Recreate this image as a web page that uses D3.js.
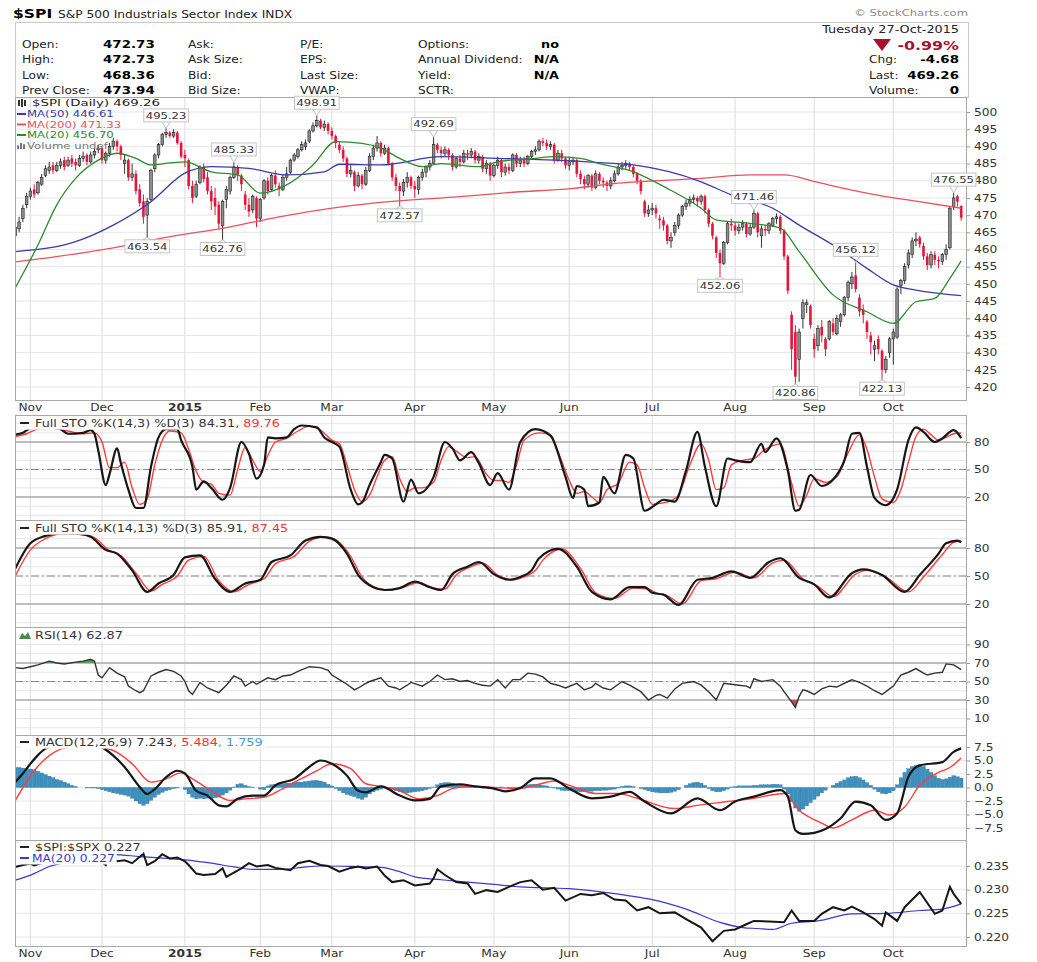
<!DOCTYPE html>
<html>
<head>
<meta charset="utf-8">
<script src="https://cdn.jsdelivr.net/npm/d3@7"></script>
<style>
  body { margin: 0; background: #fff; }
  svg text { font-family: "DejaVu Sans", Verdana, sans-serif; }
</style>
</head>
<body>
<svg id="chart" width="1037" height="962"></svg>
<script>
// ---- trading calendar (Oct 28 2014 .. Oct 27 2015) ----
const holidays = ["2014-11-27","2014-12-25","2015-01-01","2015-01-19","2015-02-16","2015-04-03","2015-05-25","2015-07-03","2015-09-07"];

// ---- daily OHLC, one row per month ----
const opens = [
  464.0,466.0,469.0,473.0,
  475.5,477.5,476.5,479.0,481.5,483.0,484.5,483.0,484.5,486.0,484.5,486.5,485.5,484.5,486.5,487.5,485.5,487.5,489.0,
  489.5,486.0,488.0,490.0,491.5,490.0,485.0,486.0,481.0,482.0,477.5,474.0,470.0,474.5,483.5,487.5,490.5,493.5,494.0,493.0,494.0,491.0,
  487.5,486.0,478.5,475.5,479.5,484.0,481.0,477.0,475.0,473.0,467.0,474.5,477.0,481.0,484.0,481.5,476.0,473.0,471.5,475.0,
  469.0,475.0,480.0,477.5,481.5,478.5,477.5,481.0,482.5,486.0,487.0,489.0,490.0,491.5,494.5,496.0,497.5,495.5,496.5,
  494.5,493.0,490.5,489.0,486.5,482.0,482.5,478.5,481.5,479.0,483.0,487.0,489.5,491.0,488.0,489.5,485.0,481.0,478.5,477.0,479.5,481.0,
  478.5,477.5,481.0,482.5,484.0,485.0,490.5,489.0,488.0,489.0,487.5,484.0,486.5,485.5,488.0,487.5,488.5,486.0,487.0,483.5,485.0,
  481.5,484.5,486.0,482.5,484.0,483.0,487.5,485.0,486.0,485.0,487.0,488.5,489.0,491.5,491.0,490.0,490.5,486.0,488.0,486.5,
  484.5,485.5,486.0,482.0,480.5,479.0,481.5,478.0,482.0,480.0,479.5,478.5,480.0,482.0,484.0,484.5,485.0,484.0,482.0,480.0,474.0,470.5,
  471.5,472.0,469.0,468.5,467.0,462.5,465.0,467.0,470.0,472.5,473.5,474.5,475.0,474.0,475.5,471.5,467.5,463.5,459.0,456.0,462.0,467.5,
  467.0,465.5,466.5,467.5,464.5,466.5,470.5,464.0,466.0,465.5,467.0,469.0,469.5,465.5,458.0,441.0,436.0,428.0,440.0,444.0,443.5,
  434.0,432.0,437.5,434.0,434.0,438.5,435.5,439.0,441.0,446.0,450.0,452.5,446.0,442.5,439.0,435.0,431.0,434.0,430.5,425.0,430.0,
  434.0,434.5,449.5,451.0,455.5,458.5,462.5,463.5,461.0,458.0,455.5,458.5,457.0,456.5,458.5,460.5,472.5,475.5,472.73
];
const highs = [
  467.5,469.5,473.0,476.5,
  478.0,479.0,480.0,482.0,484.5,485.5,485.5,485.5,486.5,487.0,487.0,487.5,486.5,487.5,488.5,488.0,488.5,489.5,490.5,
  490.0,488.5,491.0,492.5,492.0,490.5,487.5,486.5,485.0,483.0,479.0,476.0,475.0,483.5,488.0,491.0,494.0,495.23,494.5,495.0,494.5,491.5,
  489.0,486.5,480.0,480.0,484.5,485.0,482.5,478.5,478.0,474.0,474.5,478.5,481.5,485.33,484.5,482.0,477.0,475.0,476.0,475.5,
  475.0,480.5,481.0,482.0,483.0,479.5,482.0,484.0,486.5,488.0,489.5,491.5,492.0,495.0,497.0,498.91,498.0,497.5,497.0,
  495.5,493.5,491.5,490.0,487.0,484.5,483.0,482.5,482.0,484.0,488.0,490.5,493.0,491.5,490.5,490.0,485.5,482.0,479.5,480.5,482.5,481.5,
  480.0,481.5,483.5,484.5,486.0,492.69,491.0,490.0,490.0,489.5,488.0,487.0,487.5,489.0,489.0,489.5,489.0,488.0,487.5,486.0,485.5,
  485.0,487.0,486.5,485.0,485.0,488.0,488.0,487.0,487.0,487.5,489.0,490.0,492.0,492.5,492.0,491.5,491.0,489.0,489.0,487.0,
  487.0,487.0,486.5,483.0,481.5,482.0,482.0,483.0,482.5,481.0,480.0,481.0,483.0,485.0,485.5,486.0,485.5,484.5,482.5,480.5,474.5,473.0,
  473.5,473.0,470.0,469.5,467.5,465.0,468.0,470.5,473.0,474.5,475.5,476.0,475.5,476.0,476.0,472.0,468.0,464.0,460.0,462.5,468.0,469.0,
  468.0,467.5,468.5,468.0,467.5,471.46,471.0,467.0,467.0,468.0,469.5,470.5,470.0,466.0,458.5,442.0,438.0,437.0,445.5,445.5,444.0,
  435.5,438.0,439.5,434.5,439.5,440.0,441.0,441.5,446.5,451.0,453.5,456.12,447.0,444.0,439.5,436.0,433.5,435.0,431.0,429.0,434.5,
  437.0,449.0,451.5,456.0,460.0,463.5,465.0,464.0,462.0,459.0,459.5,459.5,458.0,459.0,461.5,472.5,476.55,476.0,472.73
];
const lows = [
  462.5,465.0,468.0,472.0,
  474.5,475.0,476.0,478.5,481.0,482.0,482.0,482.5,483.5,483.0,484.0,484.0,483.0,484.0,485.5,484.5,485.0,486.5,488.0,
  485.0,485.0,487.0,489.0,488.5,486.0,482.0,480.0,480.0,476.0,472.5,467.5,463.54,474.0,482.5,486.5,490.0,492.5,492.5,492.5,490.5,486.5,
  484.0,477.5,473.5,475.0,479.0,479.5,476.0,471.5,470.0,466.0,462.76,472.0,476.0,480.5,480.0,477.0,471.5,469.5,470.5,466.5,
  468.0,474.5,476.0,477.0,478.0,475.5,477.0,480.0,482.0,485.5,486.5,488.5,489.0,491.0,494.0,495.5,495.0,494.5,493.5,
  492.0,489.5,488.0,485.5,481.0,481.0,477.0,478.0,477.5,478.5,482.5,486.0,488.5,487.0,487.5,484.5,480.0,477.0,472.57,475.5,478.0,477.5,
  475.0,476.0,480.0,481.0,483.0,485.0,488.0,486.5,487.0,486.0,483.0,483.5,484.0,485.0,486.0,486.5,485.0,485.0,482.5,482.0,480.0,
  481.0,483.5,481.0,481.5,482.0,482.5,484.0,484.0,484.0,484.5,486.5,487.5,488.5,490.0,489.0,489.0,485.0,485.5,485.5,483.5,
  483.0,484.5,481.0,479.0,477.5,478.0,477.0,477.5,479.0,478.0,477.0,477.5,479.5,481.5,483.0,483.5,483.0,481.0,479.0,476.0,469.5,469.5,
  470.0,469.0,466.0,465.5,461.5,460.5,464.0,466.0,469.5,471.5,472.5,473.5,472.5,473.0,470.5,466.5,463.0,457.5,452.06,455.5,461.5,465.5,
  464.0,464.5,465.5,463.5,464.0,466.0,463.5,460.5,464.0,464.5,466.5,467.5,464.5,457.0,447.0,425.0,420.86,421.5,437.0,441.5,437.0,
  428.5,430.5,433.0,429.0,433.5,435.0,435.0,437.5,440.5,445.0,448.5,447.5,440.5,438.5,434.0,429.5,427.5,429.5,422.13,424.0,428.5,
  426.5,434.0,447.0,450.0,454.5,457.5,461.0,460.5,457.0,454.0,454.5,455.5,454.5,455.5,457.0,460.0,471.5,472.5,468.36
];
const closes = [
  466.5,468.0,472.0,475.5,
  477.0,476.0,479.5,481.0,483.5,484.0,483.0,484.5,485.5,484.0,486.0,485.0,484.5,486.5,487.0,485.5,487.5,488.5,489.5,
  486.0,488.0,490.0,491.5,490.0,487.5,486.0,481.0,482.0,477.0,473.5,469.5,474.0,483.0,487.5,490.5,493.5,494.0,493.0,494.0,491.0,487.0,
  486.5,478.5,475.0,479.0,484.0,480.5,477.0,474.0,472.5,467.5,474.0,477.5,481.0,484.0,481.5,479.0,473.0,471.0,475.5,469.0,
  474.5,480.0,477.0,481.5,479.0,477.5,481.0,482.0,486.0,487.5,489.0,490.5,491.0,494.5,496.0,497.5,495.5,496.5,494.5,
  493.0,491.0,489.0,486.5,482.0,483.0,478.5,481.5,479.0,483.0,487.0,489.5,491.0,488.0,489.5,485.0,481.0,478.5,477.0,479.5,481.0,478.5,
  477.5,481.0,482.5,484.0,485.0,490.5,489.0,488.0,489.0,487.5,484.0,486.5,485.5,488.0,487.5,488.5,486.0,487.0,483.5,485.0,481.5,
  484.5,486.0,482.5,484.0,483.0,487.5,485.0,486.0,485.0,487.0,488.5,489.0,491.5,491.0,490.0,490.5,486.0,488.0,486.5,484.5,
  485.5,486.0,482.0,480.5,479.0,481.5,478.0,482.0,480.0,479.5,478.5,480.0,482.0,484.0,484.5,485.0,484.0,482.0,480.0,477.0,470.5,471.5,
  472.0,470.5,468.5,467.0,462.5,463.5,467.0,470.0,472.5,473.5,474.5,475.0,474.0,475.5,471.5,467.5,464.0,459.0,456.0,462.0,467.5,467.0,
  465.5,466.5,467.5,464.5,466.5,470.5,465.0,466.0,465.5,467.5,469.0,469.5,465.5,458.0,448.0,431.0,423.0,436.0,444.5,444.5,438.0,
  431.0,437.0,435.0,431.0,439.0,436.0,440.0,441.0,446.0,450.5,452.0,448.5,442.0,441.0,436.0,433.0,432.0,431.0,425.0,428.0,434.0,
  436.0,448.5,451.0,455.0,459.0,462.5,463.0,461.5,458.0,455.5,458.5,457.0,456.5,458.5,460.0,472.0,475.0,473.94,469.26
];

// ---- overlays: [trading day, value] ----
const ma50 = [[0,459.4],[16,462.3],[26,467.1],[36,473.9],[45,482.2],[52,484.1],[62,483.6],[72,481.7],[82,482.6],[86,484.8],[97,484.6],[113,487.0],[128,486.5],[143,486.0],[155,485.3],[164,484.6],[182,479.7],[190,475.9],[201,472.0],[208,467.1],[217,461.3],[226,454.5],[233,449.7],[239,448.2],[251,446.6]];
const ma200 = [[0,456.4],[10,457.8],[26,460.5],[40,463.5],[57,466.6],[70,469.5],[87,472.5],[100,474.0],[118,475.4],[130,476.5],[148,477.8],[160,479.3],[182,480.7],[195,481.7],[204,481.7],[213,479.5],[222,477.3],[231,475.4],[239,474.1],[251,472.0]];
const ma20 = [[0,448.9],[6,461.3],[11,473.0],[16,480.7],[22,486.0],[27,488.0],[32,486.5],[36,484.6],[41,485.2],[45,485.5],[52,482.6],[59,481.7],[65,476.4],[72,478.8],[79,484.6],[85,491.4],[92,490.9],[97,489.5],[102,486.5],[108,484.1],[113,485.0],[123,484.1],[128,485.5],[138,486.5],[143,487.0],[150,486.5],[155,485.0],[164,482.6],[173,477.8],[182,472.0],[186,468.6],[195,467.6],[203,466.2],[208,459.4],[217,446.8],[226,441.9],[233,438.5],[239,444.8],[244,445.8],[248,451.6],[251,456.7]];

// price annotations: trading day and whether it marks the high or the low
const annotDays = [40,35,58,55,80,102,111,187,196,207,223,230,249];
const annotSide = ["high","low","high","low","high","low","high","low","high","low","high","low","high"];

// ---- indicators: [trading day, value] ----
const stoFastK = [[0,88],[2,90],[4,95],[8,97],[12,94],[14,89],[18,90],[20,93],[21,89],[22,71],[24,33],[25,45],[27,73],[28,57],[30,28],[32,8],[34,8],[36,53],[38,85],[40,94],[43,94],[44,82],[47,53],[48,28],[50,37],[52,30],[55,17],[57,30],[60,80],[62,67],[64,40],[66,55],[67,85],[69,84],[72,85],[74,94],[76,98],[80,96],[82,85],[84,80],[86,75],[89,28],[91,12],[92,14],[94,33],[97,58],[98,66],[100,62],[103,15],[105,39],[107,24],[111,42],[114,80],[116,73],[118,60],[121,69],[123,57],[126,33],[128,46],[131,28],[134,80],[138,94],[142,87],[146,42],[148,19],[149,32],[151,28],[152,10],[155,14],[156,42],[159,24],[162,66],[164,62],[167,5],[170,12],[172,17],[175,15],[178,49],[181,91],[183,53],[186,10],[189,62],[191,60],[195,58],[198,78],[199,69],[202,84],[205,49],[207,5],[208,6],[211,44],[214,32],[217,39],[220,60],[222,89],[224,90],[226,53],[228,19],[231,11],[234,28],[237,82],[239,96],[241,91],[244,80],[246,84],[249,93],[251,84.31]];
const stoFastD = [[0,86],[3,89],[6,94],[10,95],[14,92],[18,89],[21,90],[23,80],[25,52],[27,52],[29,58],[31,30],[33,12],[35,18],[37,55],[39,82],[41,92],[44,90],[46,72],[48,48],[50,36],[52,34],[54,24],[57,22],[59,50],[61,74],[63,60],[65,48],[67,65],[69,80],[72,84],[75,92],[78,97],[81,93],[84,82],[86,78],[88,55],[90,28],[92,15],[94,22],[96,42],[98,60],[100,64],[102,40],[104,26],[106,30],[108,30],[111,36],[113,60],[115,75],[117,70],[120,63],[122,64],[125,45],[127,38],[129,38],[131,36],[133,55],[135,82],[139,90],[142,88],[144,70],[147,38],[149,24],[151,26],[153,20],[155,14],[157,28],[160,35],[163,58],[165,55],[167,30],[169,12],[171,13],[174,16],[176,22],[179,55],[182,78],[184,60],[186,28],[188,30],[190,55],[193,60],[196,62],[199,72],[201,76],[203,78],[206,35],[208,10],[210,22],[212,40],[215,36],[218,42],[221,68],[224,88],[226,72],[228,42],[230,18],[233,14],[235,28],[237,58],[239,86],[241,94],[243,88],[245,82],[247,85],[249,89],[251,89.76]];
const stoSlowK = [[0,58],[4,85],[8,93],[12,96],[17,95],[20,92],[24,78],[27,74],[31,56],[35,33],[38,42],[42,51],[45,70],[49,72],[53,47],[57,33],[61,42],[65,46],[68,65],[73,72],[77,88],[81,92],[84,90],[88,74],[91,51],[95,38],[98,35],[102,37],[106,44],[110,38],[113,35],[116,52],[120,60],[123,65],[127,52],[131,46],[134,49],[137,56],[139,69],[144,79],[149,60],[153,33],[158,25],[163,38],[167,38],[169,32],[172,30],[176,19],[181,46],[185,48],[190,55],[195,48],[200,65],[203,69],[208,48],[212,41],[216,27],[222,53],[225,57],[230,51],[236,33],[240,51],[245,74],[247,85],[250,88],[251,85.91]];
const stoSlowD = [[0,50],[4,78],[8,90],[12,95],[17,95],[21,91],[25,77],[28,72],[32,53],[36,34],[39,41],[43,50],[46,67],[50,71],[54,45],[58,33],[62,41],[66,47],[69,63],[74,71],[78,87],[82,92],[85,89],[89,71],[92,49],[96,37],[99,35],[103,38],[107,43],[111,37],[114,36],[117,51],[121,60],[124,64],[128,51],[132,46],[135,49],[138,56],[140,67],[145,79],[150,58],[154,32],[159,26],[164,37],[168,36],[170,32],[173,29],[177,20],[182,45],[186,47],[191,54],[196,48],[201,64],[204,67],[209,47],[213,39],[217,28],[223,52],[226,56],[231,49],[237,33],[241,49],[246,73],[249,86],[251,87.45]];
const rsi = [[0,65],[2,64],[4,66],[6,68],[9,72],[11,70],[13,69],[16,71],[18,72],[20,74],[21,72],[22,57],[23,54],[25,65],[27,59],[29,55],[30,45],[32,40],[33,38],[34,40],[36,56],[38,60],[40,63],[42,61],[44,56],[45,50],[46,40],[47,36],[49,49],[51,43],[54,38],[56,46],[58,56],[60,52],[61,45],[63,50],[64,47],[67,54],[69,52],[71,56],[73,57],[75,61],[78,66],[81,65],[83,62],[84,57],[86,52],[88,47],[90,41],[91,43],[93,48],[94,50],[97,54],[99,45],[101,43],[102,41],[104,46],[105,49],[108,45],[110,50],[112,57],[114,52],[116,53],[118,50],[120,51],[122,48],[124,46],[126,45],[128,52],[130,43],[132,52],[134,52],[136,59],[138,58],[140,55],[142,48],[144,46],[146,43],[149,48],[151,41],[153,44],[154,48],[156,43],[158,41],[161,50],[163,46],[166,39],[168,30],[170,35],[171,36],[173,32],[175,42],[177,48],[180,50],[182,46],[184,39],[186,30],[188,48],[190,47],[192,46],[194,45],[195,43],[196,53],[198,50],[201,52],[203,45],[204,39],[206,28],[207,22],[208,34],[209,41],[210,40],[212,36],[214,42],[216,45],[218,44],[219,46],[221,50],[222,52],[224,49],[226,45],[228,40],[230,36],[232,42],[233,45],[235,57],[237,60],[239,64],[241,59],[242,57],[244,59],[246,60],[247,69],[249,68],[251,62.87]];
const macdLine = [[0,1.0],[2,2.6],[4,4.4],[6,6.0],[8,7.2],[12,8.0],[16,8.3],[19,8.2],[22,7.8],[26,5.9],[29,3.8],[33,0.1],[35,-1.2],[37,-0.3],[40,1.9],[43,3.1],[45,2.6],[48,-0.6],[51,-1.5],[54,-3.3],[56,-3.5],[59,-2.1],[63,-1.5],[66,-1.5],[69,0.4],[74,1.6],[78,3.8],[81,5.0],[84,4.4],[88,2.2],[91,-0.6],[93,-0.9],[97,0.2],[102,-1.5],[106,-2.4],[110,-2.1],[113,0.2],[118,0.6],[122,0.2],[127,-0.2],[130,-0.7],[134,-0.1],[138,1.7],[142,1.7],[147,-0.2],[153,-2.0],[158,-1.7],[163,-0.8],[167,-2.6],[174,-4.8],[181,-2.0],[187,-4.2],[191,-2.6],[196,-1.7],[203,-0.5],[205,-1.7],[207,-7.9],[209,-8.6],[212,-8.4],[215,-7.7],[219,-5.7],[223,-2.6],[227,-3.3],[231,-6.0],[234,-4.8],[237,2.0],[240,4.1],[246,4.7],[249,6.6],[251,7.243]];
const macdSignal = [[0,-2.4],[5,3.1],[9,5.9],[13,7.3],[18,7.6],[22,7.5],[27,6.5],[31,4.4],[36,1.0],[40,1.6],[44,2.7],[47,1.6],[52,-0.6],[57,-2.4],[61,-2.1],[66,-1.8],[71,-0.2],[75,1.3],[80,3.1],[84,4.4],[89,3.5],[93,0.7],[97,0.2],[102,-0.6],[107,-2.1],[112,-1.5],[116,-0.2],[121,0.2],[127,0.0],[134,-0.2],[138,0.4],[143,1.2],[147,0.4],[154,-1.1],[160,-1.1],[165,-2.0],[175,-3.9],[181,-3.3],[189,-2.6],[196,-2.0],[204,-1.1],[208,-4.2],[214,-6.6],[217,-7.5],[222,-6.0],[228,-4.2],[232,-5.1],[236,-3.6],[240,0.4],[245,2.8],[248,3.7],[251,5.484]];
// daily MACD histogram
const macdHist = [
  3.7,3.7,3.6,3.5,3.4,3.3, 3.0,2.7,2.4,2.1,1.8,1.5,1.3,1.0,0.7, 0.4,0.2,0.0,0.0,-0.1,-0.1,-0.1,-0.2,
  -0.4,-0.6,-0.8,-1.0,-1.1,-1.3,-1.4,-1.6, -2.0,-2.5,-3.0,-3.3, -3.0,-2.4,-1.8, -1.3,-0.9,-0.6,-0.4,-0.2,-0.1,0.0,
  -0.4,-1.2,-1.8,-2.1, -2.0,-2.1,-2.0,-2.0,-1.9,-1.8,-1.4, -1.0,-0.5,0.1, 0.6,0.7,0.4,0.2,0.1,0.0,
  -0.3,-0.4, 0.3,0.5,0.6,0.6,0.7,0.8,0.8,0.9,1.0,1.0, 1.1,1.2,1.3,1.3,1.2,1.0, 0.6,0.3,
  -0.2,-0.6,-1.0,-1.3,-1.5,-1.7, -2.0,-2.2,-1.8,-1.2, -0.8,-0.5,-0.3,-0.1, -0.2,-0.4,-0.6,-0.8,
  -0.9,-1.0,-0.9,-0.8,-0.7,-0.6,-0.4,-0.2, 0.1, 0.5,0.8,0.9,0.9,0.8, 0.6,0.5,0.4,0.3,0.2,
  0.1,0.0,-0.1,-0.1,-0.2,-0.1,0.0,0.1,0.0,-0.1,-0.2,-0.1,0.1, 0.3,0.5,0.6,0.6, 0.5,0.4,0.3,0.1,-0.1,
  -0.3,-0.5,-0.6,-0.6, -0.7,-0.8,-0.8,-0.8,-0.7,-0.7,-0.6,-0.6,-0.5,-0.5,-0.4,-0.3,-0.1,
  0.2,0.3,0.3,0.2, 0.0,-0.2,-0.4,-0.6, -0.8,-0.9,-1.0,-1.0,-1.0,-0.9,-0.7,-0.4,
  0.0,0.4,0.7,0.9,1.0,0.8,0.4, -0.2,-0.6,-0.8,-0.8,-0.6,-0.3, 0.1,0.2,0.3,0.3,0.3,0.3,0.4,
  0.4,0.5,0.5,0.5,0.6,0.6,0.5, -0.3,-1.2,-2.6,-3.8,-4.4, -4.0,-3.4,-2.8,-2.2,-1.6, -1.0,-0.5,0.0,
  0.4,0.8,1.1,1.4,1.8,2.0, 2.1,1.8,1.4,0.9,0.4, -0.3,-0.8,-1.1,-1.2,-1.0,-0.6,
  0.5,1.8,2.8,3.5,3.9,4.1,4.2, 3.9,3.4,2.8,2.2,1.7, 1.5,1.6,1.9,2.2,2.0,1.759
];
const relStrength = [[0,0.2348],[2,0.2352],[4,0.2355],[5,0.2351],[7,0.2356],[10,0.2360],[13,0.2358],[16,0.2362],[19,0.2360],[22,0.2364],[24,0.2352],[25,0.2374],[27,0.2360],[29,0.2362],[31,0.2356],[34,0.2376],[35,0.2352],[37,0.2360],[39,0.2375],[41,0.2366],[43,0.2368],[45,0.2360],[46,0.2352],[48,0.2334],[50,0.2331],[53,0.2333],[55,0.2345],[56,0.2327],[58,0.2336],[60,0.2345],[62,0.2356],[64,0.2349],[67,0.2352],[69,0.2346],[73,0.2341],[75,0.2356],[78,0.2361],[81,0.2352],[83,0.2350],[86,0.2338],[89,0.2346],[91,0.2349],[93,0.2345],[96,0.2349],[98,0.2330],[100,0.2316],[103,0.2320],[106,0.2309],[110,0.2313],[111,0.2324],[112,0.2343],[114,0.2331],[117,0.2316],[120,0.2313],[122,0.2291],[125,0.2299],[128,0.2295],[131,0.2306],[134,0.2316],[137,0.2320],[140,0.2300],[143,0.2304],[146,0.2277],[150,0.2291],[153,0.2288],[156,0.2293],[159,0.2279],[162,0.2277],[165,0.2256],[168,0.2263],[171,0.2250],[175,0.2252],[178,0.2238],[182,0.2220],[185,0.2191],[188,0.2213],[191,0.2216],[194,0.2227],[196,0.2234],[200,0.2233],[204,0.2231],[206,0.2256],[208,0.2234],[212,0.2234],[214,0.2249],[217,0.2263],[220,0.2256],[222,0.2264],[225,0.2252],[228,0.2238],[230,0.2224],[231,0.2252],[234,0.2234],[236,0.2263],[240,0.2295],[244,0.2249],[246,0.2256],[248,0.2306],[249,0.2291],[251,0.2270]];
const relStrengthMa = [[0,0.2320],[5,0.2334],[9,0.2349],[15,0.2360],[20,0.2368],[26,0.2374],[33,0.2370],[40,0.2366],[45,0.2363],[52,0.2356],[58,0.2348],[63,0.2343],[71,0.2343],[76,0.2347],[81,0.2350],[89,0.2349],[97,0.2347],[102,0.2338],[106,0.2327],[113,0.2321],[120,0.2316],[127,0.2311],[134,0.2306],[147,0.2302],[156,0.2295],[163,0.2287],[169,0.2279],[178,0.2259],[187,0.2231],[193,0.2220],[197,0.2218],[201,0.2216],[206,0.2229],[213,0.2234],[222,0.2249],[231,0.2250],[240,0.2256],[246,0.2259],[251,0.2270]];

// ---- tick labels ----
const priceTicks = [420,425,430,435,440,445,450,455,460,465,470,475,480,485,490,495,500];
const stoTicks = [80,50,20];
const rsiTicks = [90,70,50,30,10];
const macdTicks = [7.5,5.0,2.5,0.0,-2.5,-5.0,-7.5];
const ratioTicks = [0.220,0.225,0.230,0.235];

// ---- layout ----
const svg = d3.select("#chart");
const plotL = 15, plotR = 967;
const panels = {
  price: { top: 97, bottom: 400, domain: [420, 500], range: [387, 112] },
  sto1:  { top: 415, bottom: 520, domain: [20, 80], range: [497, 442] },
  sto2:  { top: 520, bottom: 627, domain: [20, 80], range: [604, 548] },
  rsi:   { top: 627, bottom: 735, domain: [30, 70], range: [700, 663] },
  macd:  { top: 735, bottom: 840, domain: [-7.5, 7.5], range: [828, 747] },
  ratio: { top: 840, bottom: 946, domain: [0.22, 0.235], range: [937, 866] }
};
const STRETCH = 1.22;

function widen(sel, k) {
  sel.each(function () {
    const w = this.getComputedTextLength();
    if (w > 0) {
      this.setAttribute("textLength", (w * (k || STRETCH)).toFixed(1));
      this.setAttribute("lengthAdjust", "spacingAndGlyphs");
    }
  });
  return sel;
}

const fmtDay = d3.utcFormat("%Y-%m-%d");
const holidaySet = new Set(holidays);
const days = d3.utcDays(new Date(Date.UTC(2014, 9, 28)), new Date(Date.UTC(2015, 9, 28)))
  .filter(d => d.getUTCDay() % 6 !== 0 && !holidaySet.has(fmtDay(d)));

const x = d3.scaleBand().domain(d3.range(days.length)).range([14, 962.5]).paddingInner(0.3);
const bw = x.bandwidth();
const cx = i => x(i) + bw / 2;
const monthStarts = d3.range(1, days.length).filter(i => days[i].getUTCMonth() !== days[i - 1].getUTCMonth());

// ---- header ----
widen(svg.append("text").attr("x", 13).attr("y", 18).attr("font-size", 13).attr("font-weight", "bold").text("$SPI"), 1.2);
widen(svg.append("text").attr("x", 58).attr("y", 18).attr("font-size", 10).attr("fill", "#222").text("S&P 500 Industrials Sector Index INDX"));
widen(svg.append("text").attr("x", 968).attr("y", 16).attr("text-anchor", "end").attr("font-size", 9.5).attr("fill", "#8a8a8a").text("© StockCharts.com"));
svg.append("rect").attr("x", 15.5).attr("y", 22.5).attr("width", 953).attr("height", 75).attr("fill", "none").attr("stroke", "#c8c8c8");

const quoteCols = [
  { x: 22, labels: ["Open:", "High:", "Low:", "Prev Close:"] },
  { x: 188, labels: ["Ask:", "Ask Size:", "Bid:", "Bid Size:"] },
  { x: 300, labels: ["P/E:", "EPS:", "Last Size:", "VWAP:"] },
  { x: 418, labels: ["Options:", "Annual Dividend:", "Yield:", "SCTR:"] }
];
const quoteValues = ["472.73", "472.73", "468.36", "473.94"];
const optionValues = ["no", "N/A", "N/A", ""];
const rowY = [48, 63, 78.5, 94];
quoteCols.forEach(c => c.labels.forEach((t, r) =>
  widen(svg.append("text").attr("x", c.x).attr("y", rowY[r]).attr("font-size", 10).attr("fill", "#222").text(t))));
quoteValues.forEach((t, r) =>
  widen(svg.append("text").attr("x", 103).attr("y", rowY[r]).attr("font-size", 11).attr("font-weight", "bold").text(t)));
optionValues.forEach((t, r) =>
  widen(svg.append("text").attr("x", 559).attr("y", rowY[r]).attr("text-anchor", "end").attr("font-size", 10.5).attr("font-weight", "bold").text(t)));

widen(svg.append("text").attr("x", 959).attr("y", 33).attr("text-anchor", "end").attr("font-size", 10.5).attr("fill", "#222").text("Tuesday  27-Oct-2015"));
svg.append("path").attr("d", "M873,39 L891,39 L882,51 Z").attr("fill", "#a8102e");
widen(svg.append("text").attr("x", 959).attr("y", 50).attr("text-anchor", "end").attr("font-size", 13).attr("font-weight", "bold").attr("fill", "#a8102e").text("-0.99%"));
[["Chg:", "-4.68"], ["Last:", "469.26"], ["Volume:", "0"]].forEach(([l, v], k) => {
  widen(svg.append("text").attr("x", 869).attr("y", 63 + k * 15.5).attr("font-size", 10).attr("fill", "#222").text(l));
  widen(svg.append("text").attr("x", 959).attr("y", 63 + k * 15.5).attr("text-anchor", "end").attr("font-size", 11).attr("font-weight", "bold").text(v));
});

// ---- panel scaffolding ----
function makePanel(key, gridValues, ticks, tickFmt) {
  const p = panels[key];
  const y = d3.scaleLinear().domain(p.domain).range(p.range);
  const g = svg.append("g");
  svg.append("clipPath").attr("id", "clip-" + key).append("rect")
    .attr("x", plotL).attr("y", p.top).attr("width", plotR - plotL).attr("height", p.bottom - p.top);
  const grid = g.append("g").attr("clip-path", `url(#clip-${key})`);
  grid.selectAll("line.h").data(gridValues).join("line")
    .attr("x1", plotL).attr("x2", plotR).attr("y1", d => y(d)).attr("y2", d => y(d))
    .attr("stroke", "#e6e6e6").attr("stroke-width", 1);
  grid.selectAll("line.v").data(monthStarts).join("line")
    .attr("x1", cx).attr("x2", cx).attr("y1", p.top).attr("y2", p.bottom)
    .attr("stroke", "#e2e2e2").attr("stroke-width", 1.2);
  const body = g.append("g").attr("clip-path", `url(#clip-${key})`);
  const axis = svg.append("g").attr("transform", `translate(${plotR},0)`)
    .call(d3.axisRight(y).tickValues(ticks).tickSize(3).tickPadding(4).tickFormat(tickFmt));
  axis.select(".domain").remove();
  axis.selectAll("line").attr("stroke", "#999");
  axis.selectAll("text").attr("font-size", 10).attr("font-family", "DejaVu Sans").attr("fill", "#333");
  widen(axis.selectAll("text"));
  return { p, y, g, body };
}
function frame(panel) {
  svg.append("rect").attr("x", plotL + 0.5).attr("y", panel.p.top + 0.5)
    .attr("width", plotR - plotL - 1).attr("height", panel.p.bottom - panel.p.top)
    .attr("fill", "none").attr("stroke", "#a8a8a8");
}
function refLines(panel, solid, dashed) {
  panel.body.selectAll("line.ref").data(solid).join("line")
    .attr("x1", plotL).attr("x2", plotR).attr("y1", d => panel.y(d)).attr("y2", d => panel.y(d))
    .attr("stroke", "#8a8a8a").attr("stroke-width", 1.2);
  panel.body.append("line").attr("x1", plotL).attr("x2", plotR)
    .attr("y1", panel.y(dashed)).attr("y2", panel.y(dashed))
    .attr("stroke", "#8a8a8a").attr("stroke-width", 1).attr("stroke-dasharray", "8,3,2,3");
}
function legend(parent, xPos, yPos, parts, size, bg, k) {
  const t = parent.append("text").attr("x", xPos).attr("y", yPos).attr("font-size", size).attr("dy", "0.35em");
  parts.forEach(([txt, col]) => t.append("tspan").attr("fill", col).text(txt));
  widen(t, k);
  if (bg) {
    const b = t.node().getBBox();
    parent.insert("rect", () => t.node())
      .attr("x", b.x - 14).attr("y", b.y - 1).attr("width", b.width + 16).attr("height", b.height + 2).attr("fill", "#fff");
  }
  return t;
}
function dash(parent, xPos, yPos, col) {
  parent.append("line").attr("x1", xPos).attr("x2", xPos + 9).attr("y1", yPos).attr("y2", yPos)
    .attr("stroke", col).attr("stroke-width", 2);
}
const lineOf = (y, curve) => d3.line().x(d => cx(d[0])).y(d => y(d[1])).curve(curve || d3.curveMonotoneX);

// ---- price panel ----
const price = makePanel("price", priceTicks, priceTicks, d3.format("d"));
const yP = price.y;
const candle = price.body.selectAll("g.c").data(d3.range(closes.length)).join("g");
const isUp = i => closes[i] >= opens[i];
candle.append("line")
  .attr("x1", cx).attr("x2", cx).attr("y1", i => yP(highs[i])).attr("y2", i => yP(lows[i]))
  .attr("stroke", i => isUp(i) ? "#333" : "#e3173e").attr("stroke-width", 1);
candle.append("rect")
  .attr("x", i => x(i)).attr("width", bw)
  .attr("y", i => yP(Math.max(opens[i], closes[i])))
  .attr("height", i => Math.max(1, Math.abs(yP(opens[i]) - yP(closes[i]))))
  .attr("fill", i => isUp(i) ? "#8e8e8e" : "#e3173e")
  .attr("stroke", i => isUp(i) ? "#222" : "none").attr("stroke-width", 0.6);
price.body.append("path").datum(ma200).attr("d", lineOf(yP)).attr("fill", "none").attr("stroke", "#e8525e").attr("stroke-width", 1.3);
price.body.append("path").datum(ma50).attr("d", lineOf(yP)).attr("fill", "none").attr("stroke", "#3a3aa8").attr("stroke-width", 1.3);
price.body.append("path").datum(ma20).attr("d", lineOf(yP)).attr("fill", "none").attr("stroke", "#2f8a2f").attr("stroke-width", 1.3);
frame(price);

const lg = svg.append("g");
[[18, 3], [21, 4], [24, 3]].forEach(([bx, h]) =>
  lg.append("rect").attr("x", bx).attr("y", 103 - h).attr("width", 2).attr("height", h * 2).attr("fill", "#333"));
legend(lg, 32, 103, [["$SPI (Daily) 469.26", "#222"]], 9.5, false, 1.4);
dash(lg, 17, 114, "#3a3aa8"); legend(lg, 27, 114, [["MA(50) 446.61", "#3a3aa8"]], 9, false, 1.3);
dash(lg, 17, 124.5, "#e8525e"); legend(lg, 27, 124.5, [["MA(200) 471.33", "#e8525e"]], 9, false, 1.3);
dash(lg, 17, 135, "#2f8a2f"); legend(lg, 27, 135, [["MA(20) 456.70", "#2f8a2f"]], 9, false, 1.3);
[[17, 3], [20, 5], [23, 4]].forEach(([bx, h]) =>
  lg.append("rect").attr("x", bx).attr("y", 149 - h * 1.2).attr("width", 2).attr("height", h * 1.2).attr("fill", "#777"));
legend(lg, 27, 145.5, [["Volume undef", "#777"]], 9, false, 1.3);

// price annotations
const ann = svg.append("g");
annotDays.forEach((d, k) => {
  const hi = annotSide[k] === "high";
  const v = hi ? highs[d] : lows[d];
  const px = cx(d), py = yP(v);
  const cy = hi ? py - 13 : py + 9;
  const t = ann.append("text").attr("x", px).attr("y", cy).attr("dy", "0.35em")
    .attr("text-anchor", "middle").attr("font-size", 9.5).attr("fill", "#333").text(v.toFixed(2));
  widen(t);
  const b = t.node().getBBox();
  ann.insert("rect", () => t.node()).attr("x", b.x - 2).attr("y", cy - 6.5).attr("width", b.width + 4).attr("height", 13)
    .attr("fill", "#fff").attr("stroke", "#c4c4c4");
  const edge = hi ? cy + 6.5 : cy - 6.5;
  ann.append("path").attr("d", `M${px - 4},${edge} L${px},${py} L${px + 4},${edge}`)
    .attr("fill", "none").attr("stroke", "#b0b0b0").attr("stroke-width", 0.8);
});

// ---- month axes ----
function monthAxis(yPos) {
  const a = svg.append("g").attr("transform", `translate(0,${yPos})`)
    .call(d3.axisBottom(x).tickValues(monthStarts).tickSize(0).tickPadding(2)
      .tickFormat(i => days[i].getUTCMonth() === 0 ? d3.utcFormat("%Y")(days[i]) : d3.utcFormat("%b")(days[i])));
  a.select(".domain").remove();
  a.selectAll("text").attr("font-size", 10).attr("font-family", "DejaVu Sans").attr("fill", "#333")
    .attr("font-weight", i => days[i].getUTCMonth() === 0 ? "bold" : "normal");
  widen(a.selectAll("text"));
}
monthAxis(402);
monthAxis(948);

// ---- stochastics ----
function stoPanel(key, kData, dData, label, dLabel) {
  const pn = makePanel(key, d3.range(0, 101, 10), stoTicks, d3.format("d"));
  refLines(pn, [80, 20], 50);
  pn.body.append("path").datum(dData).attr("d", lineOf(pn.y)).attr("fill", "none").attr("stroke", "#ff3b3b").attr("stroke-width", 1.4);
  pn.body.append("path").datum(kData).attr("d", lineOf(pn.y)).attr("fill", "none").attr("stroke", "#161616").attr("stroke-width", 2.2);
  const lgd = svg.append("g");
  legend(lgd, 35, pn.p.top + 8, [[label, "#333"], [dLabel, "#ff3030"]], 10.5, true);
  dash(lgd, 20, pn.p.top + 8, "#222");
  frame(pn);
  return pn;
}
stoPanel("sto1", stoFastK, stoFastD, "Full STO %K(14,3) %D(3) 84.31, ", "89.76");
stoPanel("sto2", stoSlowK, stoSlowD, "Full STO %K(14,13) %D(3) 85.91, ", "87.45");

// ---- RSI ----
const rsiP = makePanel("rsi", d3.range(0, 101, 10), rsiTicks, d3.format("d"));
refLines(rsiP, [70, 30], 50);
svg.append("clipPath").attr("id", "clip-rsi-hi").append("rect")
  .attr("x", plotL).attr("y", rsiP.p.top).attr("width", plotR - plotL).attr("height", rsiP.y(70) - rsiP.p.top);
svg.append("clipPath").attr("id", "clip-rsi-lo").append("rect")
  .attr("x", plotL).attr("y", rsiP.y(30)).attr("width", plotR - plotL).attr("height", rsiP.p.bottom - rsiP.y(30));
const rsiArea = base => d3.area().x(d => cx(d[0])).y0(rsiP.y(base)).y1(d => rsiP.y(d[1]));
rsiP.body.append("path").datum(rsi).attr("d", rsiArea(70)).attr("fill", "#5e9a5e").attr("clip-path", "url(#clip-rsi-hi)");
rsiP.body.append("path").datum(rsi).attr("d", rsiArea(30)).attr("fill", "#c05050").attr("clip-path", "url(#clip-rsi-lo)");
rsiP.body.append("path").datum(rsi).attr("d", lineOf(rsiP.y, d3.curveLinear)).attr("fill", "none").attr("stroke", "#333").attr("stroke-width", 1.4);
const rl = svg.append("g");
legend(rl, 35, rsiP.p.top + 8, [["RSI(14) 62.87", "#333"]], 10.5, true);
rl.append("path").attr("d", `M19,${rsiP.p.top + 12} L22,${rsiP.p.top + 6} L25,${rsiP.p.top + 9} L28,${rsiP.p.top + 5} L31,${rsiP.p.top + 12} Z`).attr("fill", "#4a8a4a");
frame(rsiP);

// ---- MACD ----
const macdP = makePanel("macd", d3.range(-10, 10.1, 2.5), macdTicks, d3.format(".1f"));
macdP.body.selectAll("rect.h").data(macdHist).join("rect")
  .attr("x", (v, i) => x(i) - 0.4).attr("width", x.step() - 0.2)
  .attr("y", v => Math.min(macdP.y(v), macdP.y(0)))
  .attr("height", v => Math.abs(macdP.y(v) - macdP.y(0)))
  .attr("fill", "#3d8fc0").attr("stroke", "#2a6f99").attr("stroke-width", 0.3);
macdP.body.append("path").datum(macdSignal).attr("d", lineOf(macdP.y)).attr("fill", "none").attr("stroke", "#ff3b3b").attr("stroke-width", 1.4);
macdP.body.append("path").datum(macdLine).attr("d", lineOf(macdP.y)).attr("fill", "none").attr("stroke", "#161616").attr("stroke-width", 2.2);
const ml = svg.append("g");
legend(ml, 35, macdP.p.top + 7, [["MACD(12,26,9) 7.243", "#333"], [", 5.484", "#ff3030"], [", 1.759", "#3aa0e0"]], 10.5, true);
dash(ml, 20, macdP.p.top + 7, "#222");
frame(macdP);

// ---- $SPI:$SPX ----
const ratioP = makePanel("ratio", [0.215, 0.22, 0.225, 0.23, 0.235, 0.24], ratioTicks, d3.format(".3f"));
ratioP.body.append("path").datum(relStrengthMa).attr("d", lineOf(ratioP.y)).attr("fill", "none").attr("stroke", "#3a3ac8").attr("stroke-width", 1.2);
ratioP.body.append("path").datum(relStrength).attr("d", lineOf(ratioP.y, d3.curveLinear)).attr("fill", "none").attr("stroke", "#161616").attr("stroke-width", 2);
const rt = svg.append("g");
legend(rt, 35, ratioP.p.top + 7, [["$SPI:$SPX 0.227", "#333"]], 10.5, true);
dash(rt, 20, ratioP.p.top + 7, "#222");
legend(rt, 32, ratioP.p.top + 18, [["MA(20) 0.227", "#3a3ac8"]], 10, true);
dash(rt, 20, ratioP.p.top + 18, "#3a3ac8");
frame(ratioP);
</script>
</body>
</html>
